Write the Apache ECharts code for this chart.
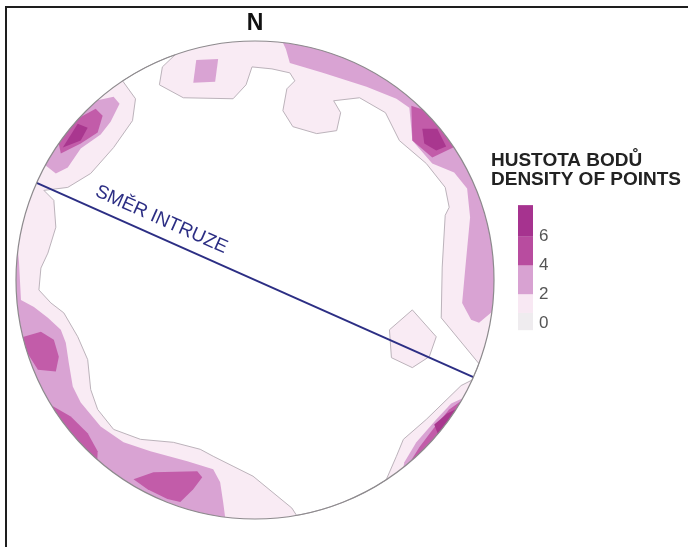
<!DOCTYPE html>
<html>
<head>
<meta charset="utf-8">
<title>Hustota bodů</title>
<script src="https://cdn.jsdelivr.net/npm/echarts@6/dist/echarts.min.js"></script>
<style>
  html, body { margin: 0; padding: 0; background: #ffffff; }
  #chart { width: 688px; height: 547px; }
</style>
</head>
<body>
<div id="chart"></div>
<script>
// Net of radius 120 units, x to the east, y to the north.
const NET_R = 120;

// Outer (0) contour: inner boundary of the density band, i.e. the empty centre
const emptyCentre = [
  [-66.5, 100], [-40, 113], [-46.5, 107], [-48, 98], [-36, 91.5], [-11, 91], [-4.5, 98],
  [-1.5, 107], [8.5, 106], [17.5, 104], [20, 100], [16, 96], [14, 85], [19, 77], [31, 73.5],
  [41, 75], [43, 84], [39.5, 90], [52.5, 91.5], [65.5, 84], [72.5, 70], [86, 58.5],
  [95.5, 46.5], [97.5, 36.5], [95.5, 32.5], [94, 6.5], [93.5, -19], [112.5, -42],
  [108.5, -50], [103.5, -53], [86, -70], [74.5, -80], [71, -88.5], [66, -100.5], [21, -119],
  [18.5, -114.5], [-1, -98.5], [-11, -93.5], [-21, -88.5], [-27.5, -85], [-41, -81.5],
  [-57.5, -80], [-71, -75], [-79, -65], [-82.5, -55], [-84, -40], [-89, -28.5], [-96, -16.5],
  [-102.5, -11.5], [-108.5, -5], [-107.5, 6], [-104, 13.5], [-100, 26.5], [-101, 40],
  [-106, 45], [-94, 46.5], [-82.5, 53.5], [-71, 66.5], [-61.5, 80], [-60, 91]
];
// Isolated 0-2 patch on the intrusion trace
const isolatedPatch = [[67.5, -25], [79, -15], [91, -28.5], [87.5, -38.5], [79, -44], [68.5, -39]];

// 2-4 contours
const level2 = [
  [[-29.5, 110.5], [-18.5, 111], [-20, 99.5], [-31, 99]],
  [[14, 119.5], [118.5, -16], [112.5, -21.5], [108.5, -20], [104, -11.5], [105.5, 5],
   [108, 31.5], [106.5, 46], [100, 54], [89, 58.5], [79, 70], [77.5, 86.5], [71, 91],
   [56, 97], [34, 104], [17.5, 109], [15.5, 116]],
  [[-81, 92.5], [-71, 92], [-68, 88.5], [-72.5, 79.5], [-77.5, 73], [-87.5, 66], [-94, 56.5],
   [-100, 53.5], [-105, 57.5]],
  [[-120, 15], [-118.5, 9], [-117.5, -10], [-111, -13.5], [-104, -19], [-97.5, -25],
   [-95, -31.5], [-93.5, -41.5], [-91.5, -53.5], [-87.5, -61.5], [-77.5, -73.5], [-66, -81.5],
   [-52.5, -86], [-34, -91], [-21, -95], [-17.5, -101.5], [-16, -111.5], [-15, -119]],
  [[103.5, -59], [98.5, -62], [91, -70], [81, -81.5], [75, -91.5], [74, -93.5]]
];

// 4-6 contours
const level4 = [
  [[78.5, 87.5], [84, 85.5], [92.5, 76.5], [99.5, 66.5], [89, 61.5], [79, 70]],
  [[-98.5, 68.5], [-89, 82.5], [-80, 86], [-76.5, 82.5], [-79, 74], [-87.5, 68.5], [-97.5, 63.5]],
  [[-116, -28.5], [-107.5, -26], [-101, -30], [-98.5, -38.5], [-100, -46], [-109, -45], [-113.5, -36.5]],
  [[-102, -63], [-92.5, -68.5], [-84, -77], [-79, -86], [-79, -90]],
  [[-61, -100], [-51, -96.5], [-29, -96], [-26.5, -99], [-31, -105], [-37.5, -111.5], [-44, -110], [-54, -105]],
  [[103, -60.5], [97.5, -65], [90, -74], [82.5, -84], [77.5, -90.5]]
];

// 6+ contours
const level6 = [
  [[84, 76], [91.5, 76], [96, 67], [91, 65], [85, 68.5]],
  [[-96.5, 66.5], [-89, 78.5], [-84, 76.5], [-87.5, 70]],
  [[100.5, -64.5], [91.5, -77], [90, -72.5], [96.5, -67]]
];

// Intrusion strike (azimuth, degrees) and its label
const intrusionStrike = 294;
const intrusionLabel = 'SMĚR INTRUZE';

// Density scale
const scaleBreaks = [-0.5, 0.7, 2, 4, 6, 8.2];
const scaleColors = ['#efecef', '#f8e8f3', '#d8a2d2', '#b84c9f', '#a6338f'];
const scaleTicks = [0, 2, 4, 6];

const COLORS = {
  base: '#f9ebf4',
  empty: '#ffffff',
  contourLine: '#bcb3bb',
  l2: '#d9a3d3',
  l4: '#c25ca9',
  l6: '#a9378f',
  rim: '#8d8a8d',
  intrusion: '#2c2e84'
};
const FONT = "'Liberation Sans', Arial, Helvetica, sans-serif";

// Vertices lying on the primitive are snapped to it and joined along the arc.
const RIM_TOL = 119;
function onRim(p) { return Math.hypot(p[0], p[1]) >= RIM_TOL; }
function toRim(p) {
  const r = Math.hypot(p[0], p[1]);
  return [p[0] * NET_R / r, p[1] * NET_R / r];
}
function traceOutline(pts) {
  const out = [];
  const n = pts.length;
  for (let i = 0; i < n; i++) {
    const a = pts[i], b = pts[(i + 1) % n];
    const aRim = onRim(a), bRim = onRim(b);
    out.push(aRim ? toRim(a) : a);
    if (aRim && bRim) {
      const t1 = Math.atan2(a[1], a[0]);
      let d = Math.atan2(b[1], b[0]) - t1;
      while (d > Math.PI) d -= 2 * Math.PI;
      while (d < -Math.PI) d += 2 * Math.PI;
      const steps = Math.max(2, Math.ceil(Math.abs(d) / 0.02));
      for (let k = 1; k < steps; k++) {
        const t = t1 + d * k / steps;
        out.push([NET_R * Math.cos(t), NET_R * Math.sin(t)]);
      }
    }
  }
  return out;
}

function contourSeries(name, polys, style, z) {
  return {
    name: name,
    type: 'custom',
    coordinateSystem: 'cartesian2d',
    xAxisIndex: 0,
    yAxisIndex: 0,
    silent: true,
    z: z,
    data: polys.map(function () { return [0, 0]; }),
    renderItem: function (params, api) {
      const pts = traceOutline(polys[params.dataIndex]).map(function (p) { return api.coord(p); });
      return { type: 'polygon', shape: { points: pts }, style: style };
    }
  };
}

const az = intrusionStrike * Math.PI / 180;
const intrusionEnds = [
  [NET_R * Math.sin(az), NET_R * Math.cos(az)],
  [-NET_R * Math.sin(az), -NET_R * Math.cos(az)]
];

const chart = echarts.init(document.getElementById('chart'), null, { renderer: 'canvas' });

const option = {
  animation: false,
  backgroundColor: '#ffffff',
  grid: [
    { left: 16, top: 41, width: 478, height: 478 },
    { left: 518, top: 208, width: 15, height: 115 }
  ],
  xAxis: [
    { type: 'value', gridIndex: 0, min: -NET_R, max: NET_R, show: false },
    { type: 'value', gridIndex: 1, min: 0, max: 1, show: false }
  ],
  yAxis: [
    { type: 'value', gridIndex: 0, min: -NET_R, max: NET_R, show: false },
    {
      type: 'value', gridIndex: 1, min: 0, max: 8, interval: 2, position: 'right',
      axisLine: { show: false }, axisTick: { show: false }, splitLine: { show: false },
      axisLabel: {
        margin: 6, color: '#555555', fontSize: 17, fontFamily: FONT,
        formatter: function (v) { return scaleTicks.indexOf(v) >= 0 ? String(v) : ''; }
      }
    }
  ],
  series: [
    {
      name: 'disk', type: 'custom', coordinateSystem: 'cartesian2d', silent: true, z: 1,
      data: [[0, 0]],
      renderItem: function (params, api) {
        const c = api.coord([0, 0]);
        const r = api.size([NET_R, 0])[0];
        return { type: 'circle', shape: { cx: c[0], cy: c[1], r: r }, style: { fill: COLORS.base } };
      }
    },
    contourSeries('empty', [emptyCentre], { fill: COLORS.empty, stroke: COLORS.contourLine, lineWidth: 1 }, 2),
    contourSeries('patch', [isolatedPatch], { fill: COLORS.base, stroke: COLORS.contourLine, lineWidth: 1 }, 3),
    contourSeries('2-4', level2, { fill: COLORS.l2 }, 4),
    contourSeries('4-6', level4, { fill: COLORS.l4 }, 5),
    contourSeries('6+', level6, { fill: COLORS.l6 }, 6),
    {
      name: 'intrusion', type: 'custom', coordinateSystem: 'cartesian2d', silent: true, z: 7,
      data: [[0, 0]],
      renderItem: function (params, api) {
        const p1 = api.coord(intrusionEnds[0]);
        const p2 = api.coord(intrusionEnds[1]);
        const dx = p2[0] - p1[0], dy = p2[1] - p1[1];
        const len = Math.hypot(dx, dy);
        const ux = dx / len, uy = dy / len;
        const t = 0.27 * len, off = 17;
        const tx = p1[0] + ux * t + uy * off;
        const ty = p1[1] + uy * t - ux * off;
        return {
          type: 'group',
          children: [
            { type: 'line', shape: { x1: p1[0], y1: p1[1], x2: p2[0], y2: p2[1] },
              style: { stroke: COLORS.intrusion, lineWidth: 2 } },
            { type: 'text', x: tx, y: ty, rotation: -Math.atan2(dy, dx),
              style: { text: intrusionLabel, fill: COLORS.intrusion, font: '19px ' + FONT,
                       align: 'center', verticalAlign: 'middle' } }
          ]
        };
      }
    },
    {
      name: 'rim', type: 'custom', coordinateSystem: 'cartesian2d', silent: true, z: 8,
      data: [[0, 0]],
      renderItem: function (params, api) {
        const c = api.coord([0, 0]);
        const r = api.size([NET_R, 0])[0];
        return { type: 'circle', shape: { cx: c[0], cy: c[1], r: r },
                 style: { fill: 'none', stroke: COLORS.rim, lineWidth: 1.2 } };
      }
    },
    {
      name: 'scale', type: 'custom', coordinateSystem: 'cartesian2d', xAxisIndex: 1, yAxisIndex: 1,
      silent: true, clip: false, z: 3,
      data: scaleColors.map(function (c, i) { return [0.5, scaleBreaks[i], scaleBreaks[i + 1], i]; }),
      renderItem: function (params, api) {
        const cs = params.coordSys;
        const top = api.coord([0, api.value(2)])[1];
        const bottom = api.coord([0, api.value(1)])[1];
        return { type: 'rect', shape: { x: cs.x, y: top, width: cs.width, height: bottom - top },
                 style: { fill: scaleColors[api.value(3)] } };
      }
    }
  ],
  graphic: [
    { type: 'text', x: 255, y: 24, z: 20,
      style: { text: 'N', fill: '#111111', font: 'bold 23px ' + FONT, align: 'center', verticalAlign: 'middle' } },
    { type: 'text', x: 491, y: 161, z: 20,
      style: { text: 'HUSTOTA BODŮ', fill: '#222222', font: 'bold 19px ' + FONT, align: 'left', verticalAlign: 'middle' } },
    { type: 'text', x: 491, y: 180, z: 20,
      style: { text: 'DENSITY OF POINTS', fill: '#222222', font: 'bold 19px ' + FONT, align: 'left', verticalAlign: 'middle' } },
    { type: 'line', z: 20, shape: { x1: 5, y1: 7, x2: 688, y2: 7 }, style: { stroke: '#1e1e1e', lineWidth: 2 } },
    { type: 'line', z: 20, shape: { x1: 6, y1: 6, x2: 6, y2: 547 }, style: { stroke: '#1e1e1e', lineWidth: 2 } }
  ]
};

chart.setOption(option);
</script>
</body>
</html>
